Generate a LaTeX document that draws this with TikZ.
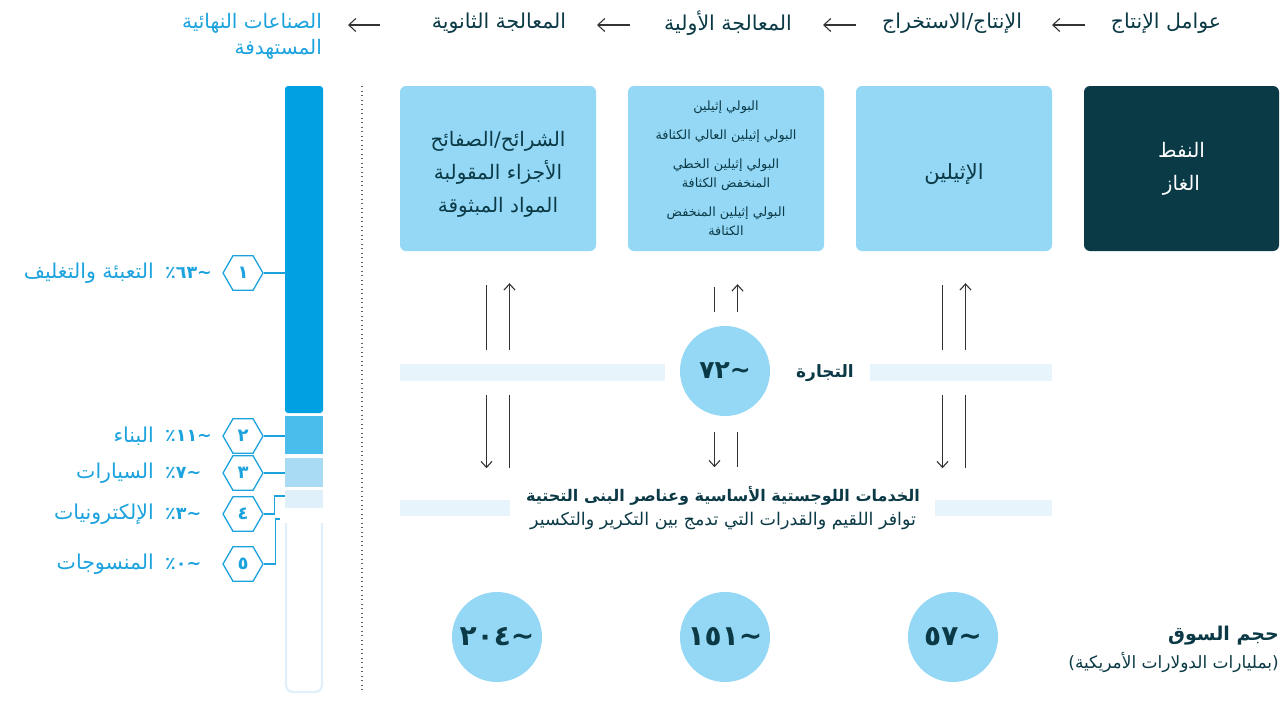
\documentclass[tikz,border=0pt]{standalone}
\usepackage{fontspec}
\usetikzlibrary{shapes.geometric,arrows.meta,calc}
\newfontfamily\arabicfont[Script=Arabic]{DejaVu Sans}
\TeXXeTstate=1
\newcommand\artext[1]{\beginR #1\endR}
\newcommand\tld{\textasciitilde}
% figures set left to right: percent sign, digits, tilde
\newcommand\pctval[1]{\mbox{٪}\mbox{#1}\mbox{\tld}}
\newcommand\numval[1]{\mbox{#1}\mbox{\tld}}

\definecolor{ink}{HTML}{0B3A46}
\definecolor{sky}{HTML}{94D8F6}
\definecolor{deep}{HTML}{093A46}
\definecolor{cyanx}{HTML}{1CA3DE}
\definecolor{barA}{HTML}{00A1E3}
\definecolor{barB}{HTML}{4BBDEC}
\definecolor{barC}{HTML}{A9DBF4}
\definecolor{barD}{HTML}{E0F0FA}
\definecolor{band}{HTML}{E7F4FB}
\definecolor{arrowgray}{HTML}{333333}

\tikzset{
  fs/.style 2 args={font=\arabicfont\fontsize{#1}{#2}\selectfont},
  fsb/.style 2 args={font=\arabicfont\bfseries\fontsize{#1}{#2}\selectfont},
  hdr/.style={fs={20.5}{26}, text=ink, inner sep=0},
  stagebox/.style={fill=sky, rounded corners=6, minimum width=196, minimum height=165,
    inner sep=0, align=center, text=ink},
  seg/.style={minimum width=38, inner sep=0, draw=none},
  hexa/.style={regular polygon, regular polygon sides=6, minimum size=40, inner sep=0,
    draw=cyanx, line width=1.3, fill=white, text=cyanx, fsb={18}{20}},
  link/.style={draw=cyanx, line width=1.3},
  pct/.style={anchor=west, text=cyanx, inner sep=0, fsb={17.5}{20}},
  sector/.style={anchor=east, text=cyanx, inner sep=0, fs={20.5}{24}},
  hdrarrow/.style={draw=arrowgray, line width=1.1, -{Straight Barb[length=7pt,width=13pt]}},
  darr/.style={draw=arrowgray, line width=1.1, -{Straight Barb[length=6pt,width=11pt]}},
  dline/.style={draw=arrowgray, line width=1.1},
  bubble/.style={circle, fill=sky, minimum size=90, inner sep=0, text=ink, fsb={28}{32}},
}

\begin{document}
\begin{tikzpicture}[x=1pt,y=-1pt]
\useasboundingbox (0,0) rectangle (1282,710);
\fill[white] (0,0) rectangle (1282,710);

% value chain header
\node[hdr] (t1) at (1166,23) {\artext{عوامل الإنتاج}};
\node[hdr] (t2) at (952,23) {\artext{الإنتاج/الاستخراج}};
\node[hdr] (t3) at (728,23) {\artext{المعالجة الأولية}};
\node[hdr] (t4) at (499,23) {\artext{المعالجة الثانوية}};
\node[hdr, text=cyanx, anchor=north east, align=right, fs={20}{26}] (t5) at (322,13)
  {\artext{الصناعات النهائية}\\\artext{المستهدفة}};

\coordinate (a1s) at (1085,25); \coordinate (a1e) at (1052,25);
\coordinate (a2s) at (856,25);  \coordinate (a2e) at (823,25);
\coordinate (a3s) at (630,25);  \coordinate (a3e) at (597,25);
\coordinate (a4s) at (380,25);  \coordinate (a4e) at (348,25);
\draw[hdrarrow] (a1s) -- (a1e);
\draw[hdrarrow] (a2s) -- (a2e);
\draw[hdrarrow] (a3s) -- (a3e);
\draw[hdrarrow] (a4s) -- (a4e);

% stage boxes
\node[stagebox, fs={20}{33}] (b1) at (498,168.5)
  {\rule{0pt}{27pt}\artext{الشرائح/الصفائح}\\\artext{الأجزاء المقولبة}\\\artext{المواد المبثوقة}};
\node[stagebox, fs={12.8}{19}] (b2) at (726,168.5)
  {\artext{البولي إثيلين}\\[10pt]\artext{البولي إثيلين العالي الكثافة}\\[10pt]
   \artext{البولي إثيلين الخطي}\\\artext{المنخفض الكثافة}\\[10pt]
   \artext{البولي إثيلين المنخفض}\\\artext{الكثافة}};
\node[stagebox, fs={21}{33}] (b3) at (954,168.5) {\rule{0pt}{28pt}\artext{الإثيلين}};
\node[stagebox, fill=deep, text=white, minimum width=195, fs={20}{33}] (b4) at (1181.5,168.5)
  {\artext{النفط}\\\artext{الغاز}};

% separator
\draw[arrowgray!80, line width=1.3, dash pattern=on 1.3pt off 3.2pt] (362,86) -- (362,692);

% bands
\fill[band] (400,364) rectangle (665,381);
\fill[band] (870,364) rectangle (1052,381);
\fill[band] (400,500) rectangle (510,516);
\fill[band] (935,500) rectangle (1052,516);

% flows between stages and trade / logistics
\foreach \b in {b1,b3} {
  \draw[dline] ($(\b.south)+(-11.5,34)$) -- ($(\b.south)+(-11.5,99)$);
  \draw[darr]  ($(\b.south)+(11.5,99)$) -- ($(\b.south)+(11.5,32)$);
  \draw[darr]  ($(\b.south)+(-11.5,144)$) -- ($(\b.south)+(-11.5,217)$);
  \draw[dline] ($(\b.south)+(11.5,144)$) -- ($(\b.south)+(11.5,217)$);
}
\draw[dline] ($(b2.south)+(-11.5,36)$) -- ($(b2.south)+(-11.5,61)$);
\draw[darr]  ($(b2.south)+(11.5,61)$) -- ($(b2.south)+(11.5,33)$);
\draw[darr]  ($(b2.south)+(-11.5,181)$) -- ($(b2.south)+(-11.5,216)$);
\draw[dline] ($(b2.south)+(11.5,181)$) -- ($(b2.south)+(11.5,216)$);

% trade
\node[bubble, fsb={25}{30}] (c72) at (725,371) {\numval{٧٢}};
\node[text=ink, inner sep=0, fsb={17}{22}] (trade) at (825,373) {\artext{التجارة}};

% logistics
\node[text=ink, inner sep=0, fsb={16}{19}] (logi) at (723,496)
  {\artext{الخدمات اللوجستية الأساسية وعناصر البنى التحتية}};
\node[text=ink, inner sep=0, fs={17.5}{21}] (logi2) at (723,521)
  {\artext{توافر اللقيم والقدرات التي تدمج بين التكرير والتكسير}};

% market size
\node[bubble] (c204) at (497,637) {\numval{٢٠٤}};
\node[bubble] (c151) at (725,637) {\numval{١٥١}};
\node[bubble] (c57) at (953,637) {\numval{٥٧}};
\node[anchor=east, text=ink, inner sep=0, fsb={19}{22}] (ms) at (1279,636) {\artext{حجم السوق}};
\node[anchor=east, text=ink, inner sep=0, fs={17}{20}] (ms2) at (1279,662) {\artext{(بمليارات الدولارات الأمريكية)}};

% end-use split bar
\node[seg, fill=barA, minimum height=327, rounded corners=3] (s1) at (304,249.5) {};
\node[seg, fill=barB, minimum height=38] (s2) at (304,435) {};
\node[seg, fill=barC, minimum height=29] (s3) at (304,472.5) {};
\node[seg, fill=barD, minimum height=18] (s4) at (304,499) {};
\draw[barD, line width=2.2, rounded corners=7] (286,523) |- (322,692) -- (322,523);

% end-use labels
\node[hexa] (h1) at (243,273) {١};
\node[hexa] (h2) at (243,436) {٢};
\node[hexa] (h3) at (243,473) {٣};
\node[hexa] (h4) at (243,514) {٤};
\node[hexa] (h5) at (243,564) {٥};
\coordinate (tail) at (280,519);

\draw[link] (h1.east) -- (h1.east -| s1.west);
\draw[link] (h2.east) -- (h2.east -| s2.west);
\draw[link] (h3.east) -- (h3.east -| s3.west);
\draw[link] (h4.east) -- ++(11,0) |- ($(s4.west)+(0,-3)$);
\draw[link] (h5.east) -- ++(12,0) |- (tail);

\node[pct] (p1) at (165,273) {\pctval{٦٣}};
\node[pct] (p2) at (165,436) {\pctval{١١}};
\node[pct] (p3) at (165,473) {\pctval{٧}};
\node[pct] (p4) at (165,514) {\pctval{٣}};
\node[pct] (p5) at (165,564) {\pctval{٠}};

\node[sector] (n1) at (154,273) {\artext{التعبئة والتغليف}};
\node[sector] (n2) at (154,436) {\artext{البناء}};
\node[sector] (n3) at (154,473) {\artext{السيارات}};
\node[sector] (n4) at (154,514) {\artext{الإلكترونيات}};
\node[sector] (n5) at (154,564) {\artext{المنسوجات}};
\end{tikzpicture}
\end{document}
